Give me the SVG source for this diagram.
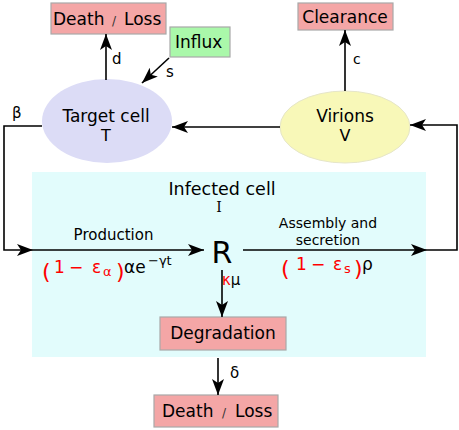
<svg xmlns="http://www.w3.org/2000/svg" width="459" height="430" viewBox="0 0 459 430">
<defs>
<style>
text{font-family:"DejaVu Sans","Liberation Sans",sans-serif;fill:#000}
.box{fill:#f4a6a6;stroke:#a8a8a8;stroke-width:1.2}
.lbl{font-size:17px}
.mid{text-anchor:middle}
.red{fill:#ff0000}
.con{fill:none;stroke:#000;stroke-width:1.6}
.sl{font-size:12px;fill:#333}
</style>
<marker id="ah" markerUnits="userSpaceOnUse" viewBox="0 0 16 12" markerWidth="16" markerHeight="12" refX="16" refY="6" orient="auto">
<path d="M0,0 L16,6 L0,12 L4,6 z" fill="#000"/>
</marker>
</defs>
<rect width="459" height="430" fill="#fff"/>

<g id="infected">
<rect x="32" y="172" width="394" height="185" fill="#e2fcfc"/>
<text class="mid" x="222" y="195" style="font-size:17.5px">Infected cell</text>
<text class="mid" x="219" y="212" style="font-family:'DejaVu Serif','Liberation Serif',serif;font-size:14px">I</text>
</g>

<g id="death-top">
<rect class="box" x="51" y="3" width="115" height="31"/>
<text class="lbl" x="53" y="25">Death</text>
<text class="sl" x="112" y="25">/</text>
<text class="lbl" x="124" y="25">Loss</text>
</g>

<g id="influx">
<rect x="170" y="27" width="60" height="30" fill="#aaf8aa" stroke="#a8a8a8" stroke-width="1.2"/>
<text class="lbl" x="175" y="48">Influx</text>
</g>

<g id="clearance">
<rect class="box" x="298" y="3" width="95" height="27"/>
<text class="lbl mid" x="345" y="23">Clearance</text>
</g>

<g id="target">
<ellipse cx="107" cy="121" rx="65" ry="42" fill="#dcdcf6"/>
<text class="lbl mid" x="106" y="122">Target cell</text>
<text class="mid" x="106" y="141" style="font-size:16px">T</text>
</g>

<g id="virions">
<ellipse cx="345" cy="127" rx="65" ry="36" fill="#f8f8b8" stroke="#e6e6c8" stroke-width="1"/>
<text class="lbl mid" x="345" y="122">Virions</text>
<text class="mid" x="345" y="141" style="font-size:16px">V</text>
</g>

<g id="R">
<text class="mid" x="222" y="263" style="font-size:30px">R</text>
</g>

<g id="degradation">
<rect class="box" x="160" y="317" width="126" height="33"/>
<text class="lbl mid" x="223" y="339">Degradation</text>
</g>

<g id="death-bottom">
<rect class="box" x="154" y="395" width="124" height="32"/>
<text class="lbl" x="162" y="417">Death</text>
<text class="sl" x="222" y="417">/</text>
<text class="lbl" x="235" y="417">Loss</text>
</g>

<g id="connectors">
<line class="con" x1="106" y1="80" x2="106" y2="34" marker-end="url(#ah)"/>
<line class="con" x1="169" y1="58" x2="142" y2="83" marker-end="url(#ah)"/>
<line class="con" x1="280" y1="127" x2="172" y2="127" marker-end="url(#ah)"/>
<line class="con" x1="345" y1="91" x2="345" y2="30" marker-end="url(#ah)"/>
<path class="con" d="M42,126 H4 V250 H33" marker-end="url(#ah)"/>
<line class="con" x1="33" y1="250" x2="204" y2="250" marker-end="url(#ah)"/>
<line class="con" x1="243" y1="250" x2="427" y2="250" marker-end="url(#ah)"/>
<path class="con" d="M427,250 H457 V125 H410" marker-end="url(#ah)"/>
<line class="con" x1="222" y1="270" x2="222" y2="317" marker-end="url(#ah)"/>
<line class="con" x1="218" y1="358" x2="218" y2="395" marker-end="url(#ah)"/>
</g>

<g id="labels">
<text x="112" y="64" style="font-size:15px">d</text>
<text x="166" y="77" style="font-size:15px">s</text>
<text x="353" y="64" style="font-size:14px">c</text>
<text x="12" y="118" style="font-size:15px">β</text>
<text class="mid" x="113.5" y="240" style="font-size:15px">Production</text>
<text class="mid" x="328" y="228" style="font-size:14px">Assembly and</text>
<text class="mid" x="328" y="245" style="font-size:14px">secretion</text>
<text x="230" y="378" style="font-size:15px">δ</text>
<text x="222" y="285" style="font-size:15px"><tspan class="red">κ</tspan>μ</text>

<text class="red" x="42" y="279" style="font-size:22px">(</text>
<text class="red" x="54" y="273" style="font-size:17px">1</text>
<text class="red" x="69" y="273" style="font-size:17px">−</text>
<text class="red" x="92" y="273" style="font-size:17px">ε</text>
<text class="red" x="103" y="276" style="font-size:13px">α</text>
<text class="red" x="116" y="279" style="font-size:22px">)</text>
<text x="124" y="273" style="font-size:17px">αe</text>
<text x="148" y="265" style="font-size:13px">−γt</text>

<text class="red" x="281" y="276" style="font-size:22px">(</text>
<text class="red" x="296" y="270" style="font-size:17px">1</text>
<text class="red" x="311" y="270" style="font-size:17px">−</text>
<text class="red" x="333" y="270" style="font-size:17px">ε</text>
<text class="red" x="344" y="273" style="font-size:13px">s</text>
<text class="red" x="354" y="276" style="font-size:22px">)</text>
<text x="362" y="270" style="font-size:17px">ρ</text>
</g>
</svg>
